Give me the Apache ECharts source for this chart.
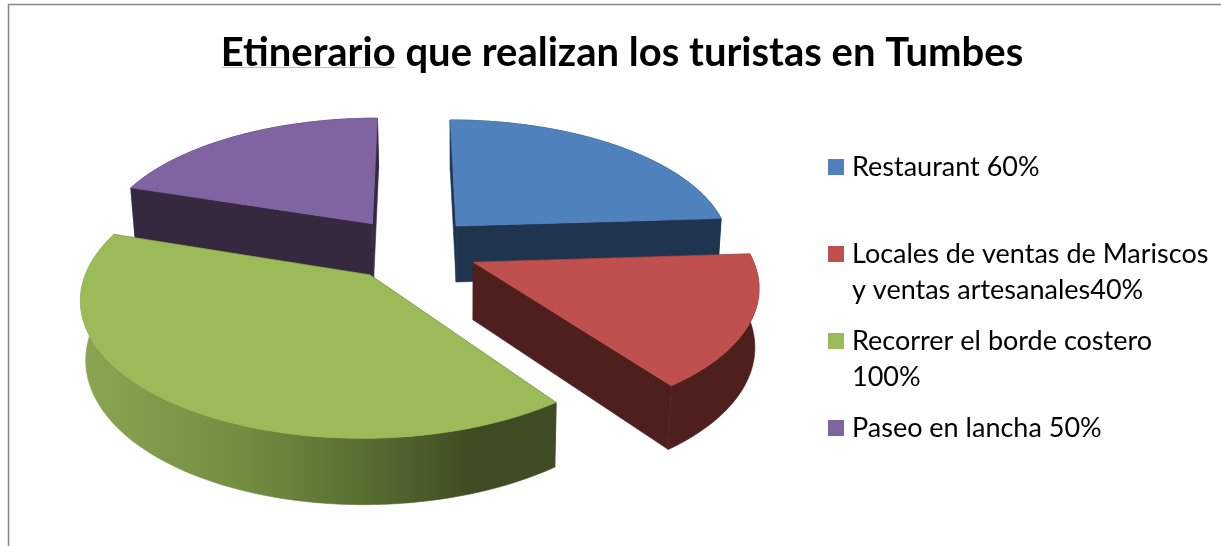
<!DOCTYPE html>
<html><head><meta charset="utf-8">
<style>html,body{margin:0;padding:0;background:#fff}#c{width:1221px;height:546px}</style>
<script src="https://cdn.jsdelivr.net/npm/echarts@6/dist/echarts.min.js"></script>
</head><body><div id="c"></div>
<script>
const titleText = 'Etinerario que realizan los turistas en Tumbes';
const categories = ['Restaurant 60%', 'Locales de ventas de Mariscos\ny ventas artesanales40%', 'Recorrer el borde costero\n100%', 'Paseo en lancha 50%'];
const values = [60, 40, 100, 50];
const topColors = ['#4f81bd', '#c0504d', '#9bbb59', '#8064a2'];
const sideColors = ['#1f344e', '#4f1f1e', '#3f4b22', '#35283f'];
const drawOrder = [3, 0, 1, 2];

const total = values.reduce((a, b) => a + b, 0);
const view = { cx: 411, cy: 248.5, A: 276, B: 129, p: 0.155, explode: 0.245, depth: 57, depthPersp: 0.72, vx: 460, shrink: 0.014 };
function proj(X, Y, low) {
  const w = 1 / (1 - view.p * Y);
  let x = view.cx + view.A * X * w, y = view.cy + view.B * Y * w;
  if (low) { x += (view.vx - x) * view.shrink; y += view.depth * (1 + (w - 1) * view.depthPersp); }
  return [x, y];
}
const rimGradient = { type: 'linear', global: true, x: 80, y: 0, x2: 560, y2: 0, colorStops: [
  { offset: 0, color: '#8aa652' }, { offset: 0.35, color: '#728c41' }, { offset: 0.62, color: '#566a30' }, { offset: 0.82, color: '#3f4b22' }, { offset: 1, color: '#3f4b22' }] };

function sliceRenderer(idx) {
  return function (params, api) {
    const v = api.value(0);
    let before = 0;
    for (let i = 0; i < idx; i++) before += values[i];
    const a0 = before / total * 2 * Math.PI, a1 = (before + v) / total * 2 * Math.PI, am = (a0 + a1) / 2;
    const ox = view.explode * Math.sin(am), oy = -view.explode * Math.cos(am);
    const rim = [];
    const n = 72;
    for (let i = 0; i <= n; i++) { const t = a0 + (a1 - a0) * i / n; rim.push([ox + Math.sin(t), oy - Math.cos(t)]); }
    const up = rim.map(q => proj(q[0], q[1], false));
    const dn = rim.map(q => proj(q[0], q[1], true));
    const apexU = proj(ox, oy, false), apexD = proj(ox, oy, true);
    const side = sideColors[idx];
    const rimFill = idx === 2 ? rimGradient : side;
    const poly = (points, fill) => ({ type: 'polygon', shape: { points }, style: { fill, stroke: fill, lineWidth: 0.6 } });
    return { type: 'group', children: [
      poly([apexU, up[0], dn[0], apexD], side),
      poly([apexU, up[n], dn[n], apexD], side),
      poly(up.concat(dn.slice().reverse()), rimFill),
      poly([apexU].concat(up), topColors[idx])
    ] };
  };
}

const chart = echarts.init(document.getElementById('c'), null, { renderer: 'canvas' });
chart.setOption({
  animation: false,
  backgroundColor: '#fff',
  title: { text: titleText, left: 617, textAlign: 'center', top: 28, textStyle: { fontFamily: 'Lato', fontWeight: 'bold', fontSize: 40, color: '#000' } },
  legend: {
    data: categories, orient: 'vertical', left: 823, top: 144, itemWidth: 19, itemHeight: 72, itemGap: 15,
    icon: 'path://M0 10H16V26H0Z M19 0L19 0 M0 72L0 72',
    selectedMode: false,
    formatter: n => n.includes('\n') ? n : n + '\n ',
    textStyle: { fontFamily: 'Lato', fontSize: 27, lineHeight: 36, color: '#000' }
  },
  graphic: [
    { type: 'polyline', silent: true, shape: { points: [[8.5, 546], [8.5, 4.5], [1221, 4.5]] }, style: { fill: null, stroke: '#868686', lineWidth: 1.5 } },
    { type: 'line', silent: true, z: 10, shape: { x1: 222, y1: 67.5, x2: 395, y2: 67.5 }, style: { stroke: '#f5a9a9', lineWidth: 1 } }
  ],
  series: drawOrder.map((idx, order) => ({
    type: 'custom', name: categories[idx], coordinateSystem: 'none', z: 2 + order, silent: true,
    itemStyle: { color: topColors[idx] },
    data: [[values[idx]]],
    renderItem: sliceRenderer(idx)
  }))
});
</script></body></html>
